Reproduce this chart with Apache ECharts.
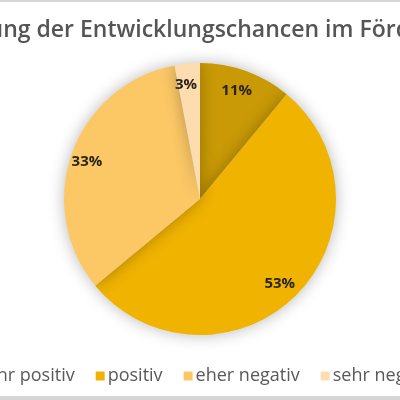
<!DOCTYPE html>
<html>
<head>
<meta charset="utf-8">
<script src="https://cdn.jsdelivr.net/npm/echarts@6/dist/echarts.min.js"></script>
<style>
    html, body { margin: 0; padding: 0; background: #fff; }
    #chart { width: 400px; height: 400px; }
</style>
</head>
<body>
<div id="chart"></div>
<script>
// Daten
const titleText = 'Einschätzung der Entwicklungschancen im Förderprogramm';
const categories = ['sehr positiv', 'positiv', 'eher negativ', 'sehr negativ'];
const shares = [11, 53, 33, 3];
const colors = ['#C99A06', '#F0B300', '#FCC866', '#FDDDB0'];

const pieData = categories.map((name, i) => ({ name: name, value: shares[i] }));

const chart = echarts.init(document.getElementById('chart'));
chart.setOption({
    animation: false,
    color: colors,
    title: {
        text: titleText,
        left: -121,
        top: 14,
        textStyle: {
            fontFamily: 'Open Sans',
            fontSize: 23,
            fontWeight: 600,
            color: '#555555'
        }
    },
    legend: {
        data: categories,
        bottom: 10,
        left: -39,
        width: 900,
        itemWidth: 9,
        itemHeight: 9,
        itemGap: 21,
        icon: 'rect',
        textStyle: {
            fontFamily: 'Open Sans',
            fontSize: 18,
            color: '#595959',
            padding: [0, 0, 0, -2]
        }
    },
    series: [
        {
            type: 'pie',
            center: [200, 199],
            radius: 136,
            startAngle: 90,
            clockwise: true,
            silent: true,
            data: pieData,
            label: { show: false },
            labelLine: { show: false },
            itemStyle: {
                shadowBlur: 16,
                shadowColor: 'rgba(0,0,0,0.28)'
            }
        },
        {
            // nur für die Beschriftungen (bei ca. 0.84 R)
            type: 'pie',
            center: [197, 201],
            radius: [96, 132],
            startAngle: 90,
            clockwise: true,
            silent: true,
            data: pieData,
            itemStyle: { color: 'transparent' },
            labelLine: { show: false },
            label: {
                show: true,
                position: 'inside',
                formatter: '{c}%',
                fontFamily: 'Open Sans',
                fontSize: 15,
                fontWeight: 'bold',
                color: '#2a2418'
            }
        }
    ],
    graphic: [
        { type: 'rect', left: 0, top: 0, shape: { width: 400, height: 2 }, style: { fill: '#d6d6d6' } },
        { type: 'rect', left: 0, top: 396, shape: { width: 400, height: 4 }, style: { fill: '#d6d6d6' } }
    ]
});
</script>
</body>
</html>
